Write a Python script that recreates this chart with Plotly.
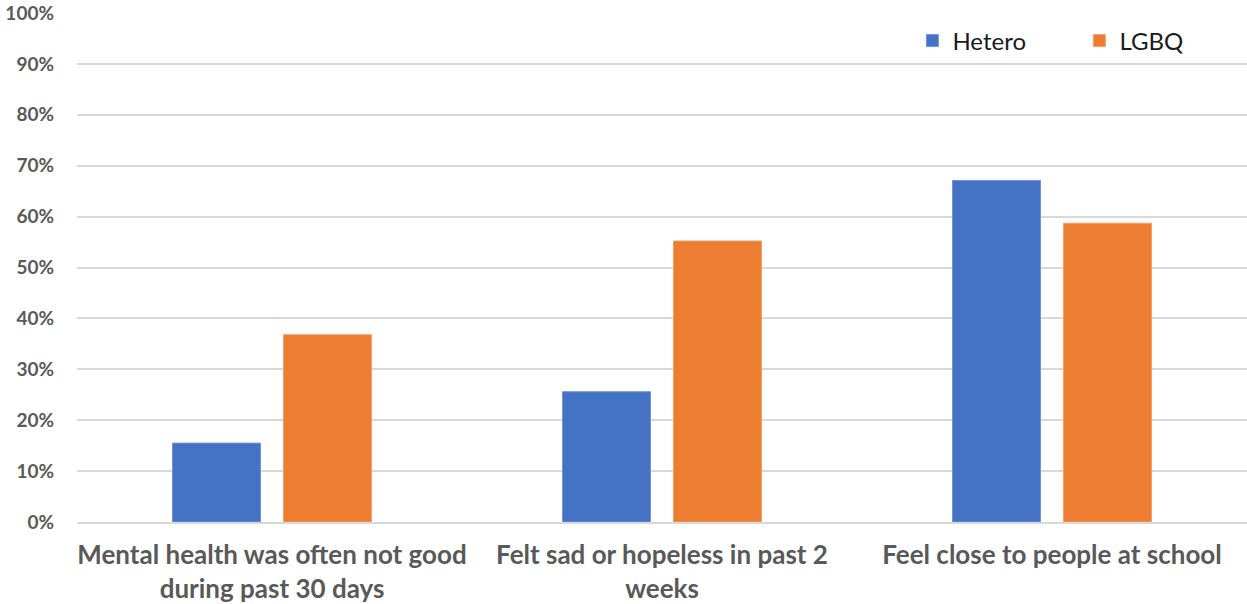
import plotly.graph_objects as go

categories = [
    "Mental health was often not good<br>during past 30 days",
    "Felt sad or hopeless in past 2<br>weeks",
    "Feel close to people at school",
]
hetero = [15.5, 25.6, 67.1]
lgbq = [36.8, 55.2, 58.7]
y_ticks = list(range(0, 101, 10))
y_tick_labels = [f"{v}%" for v in y_ticks]

fig = go.Figure()
fig.add_trace(go.Bar(name="Hetero", x=categories, y=hetero, marker_color="#4472C4",
                     marker_line=dict(color="#6f95d8", width=1)))
fig.add_trace(go.Bar(name="LGBQ", x=categories, y=lgbq, marker_color="#ED7D31",
                     marker_line=dict(color="#f4a06a", width=1)))

fig.update_layout(
    width=1247, height=604,
    margin=dict(l=77, r=0, t=13, b=82, autoexpand=False),
    plot_bgcolor="white", paper_bgcolor="white",
    barmode="group", bargap=0.431, bargroupgap=0.207,
    font=dict(family="Lato", color="#595959"),
    legend=dict(orientation="h", x=0.714, y=0.945, xanchor="left", yanchor="middle",
                font=dict(size=24, color="#1a1a1a", family="Lato"),
                entrywidth=122, bgcolor="rgba(0,0,0,0)"),
    showlegend=True,
)
fig.update_yaxes(range=[0, 100], tickvals=y_ticks, ticktext=y_tick_labels,
                 showgrid=True, gridcolor="#d9d9d9", gridwidth=1.5,
                 zeroline=False, showline=False, ticks="", automargin=False,
                 tickfont=dict(size=19, family="Lato", color="#595959", weight="bold"),
                 ticklabelstandoff=22)
fig.update_xaxes(showline=True, linecolor="#d9d9d9", linewidth=1.5, ticks="",
                 automargin=False, ticklabelstandoff=9,
                 tickfont=dict(size=26, family="Lato", color="#595959", weight="bold"))

fig.write_html("out.html")
